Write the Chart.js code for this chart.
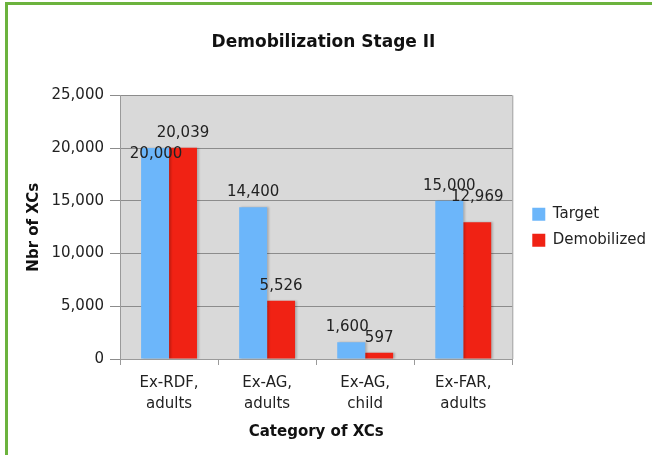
<!DOCTYPE html>
<html>
<head>
<meta charset="utf-8">
<script src="https://cdn.jsdelivr.net/npm/chart.js@4.4.1/dist/chart.umd.min.js"></script>
<style>
  html, body { margin: 0; padding: 0; background: #fff; }
  #wrap { position: relative; width: 652px; height: 455px; }
  #frame { position: absolute; left: 5px; top: 2px; right: 0; bottom: 0;
           border-top: 3px solid #6cb33e; border-left: 3px solid #6cb33e; pointer-events: none; }
  canvas { position: absolute; left: 0; top: 0; }
</style>
</head>
<body>
<div id="wrap">
  <canvas id="chart" width="652" height="455"></canvas>
  <div id="frame"></div>
</div>
<script>
// data
const categories = [["Ex-RDF,", "adults"], ["Ex-AG,", "adults"], ["Ex-AG,", "child"], ["Ex-FAR,", "adults"]];
const target = [20000, 14400, 1600, 15000];
const demobilized = [20039, 5526, 597, 12969];
const yTicks = [0, 5000, 10000, 15000, 20000, 25000];

// label nudges (dx, dy) so they sit where the original put them
const labelNudge = {
  0: [[1, 21], [0, 0], [-4, 0], [0, 0]],
  1: [[0, 0], [0, 0], [0, 0], [0, -10]],
};

const FONT = "'DejaVu Sans', Verdana, sans-serif";

const plotBg = {
  id: "plotBg",
  beforeDraw(chart) {
    const { ctx, chartArea: a } = chart;
    ctx.save();
    ctx.fillStyle = "#d9d9d9";
    ctx.fillRect(a.left, a.top, a.right - a.left, a.bottom - a.top);
    ctx.restore();
  },
  afterDraw(chart) {
    const { ctx, chartArea: a } = chart;
    ctx.save();
    ctx.strokeStyle = "#9a9a9a";
    ctx.lineWidth = 1;
    ctx.beginPath();
    ctx.moveTo(a.right + 0.5, a.top);
    ctx.lineTo(a.right + 0.5, a.bottom);
    ctx.stroke();
    ctx.restore();
  },
  // soft shadow on the right of bars
  beforeDatasetsDraw(chart) {
    const ctx = chart.ctx;
    ctx.save();
    ctx.shadowColor = "rgba(0,0,0,0.2)";
    ctx.shadowOffsetX = 2;
    ctx.shadowOffsetY = 0;
    ctx.shadowBlur = 2;
  },
  afterDatasetsDraw(chart) {
    chart.ctx.restore();
  }
};

const valueLabels = {
  id: "valueLabels",
  afterDatasetsDraw(chart) {
    const ctx = chart.ctx;
    ctx.save();
    ctx.font = "15px " + FONT;
    ctx.fillStyle = "#222";
    ctx.textAlign = "center";
    ctx.textBaseline = "middle";
    chart.data.datasets.forEach((ds, di) => {
      chart.getDatasetMeta(di).data.forEach((bar, i) => {
        const [dx, dy] = labelNudge[di][i];
        ctx.fillText(ds.data[i].toLocaleString("en-US"), bar.x + dx, bar.y - 15 + dy);
      });
    });
    ctx.restore();
  }
};

const legendShift = {
  id: "legendShift",
  afterLayout(chart) {
    chart.legend.left += 9;
    chart.legend.right += 9;
  }
};

new Chart(document.getElementById("chart"), {
  type: "bar",
  data: {
    labels: categories,
    datasets: [
      { label: "Target", data: target, backgroundColor: "#6cb6fa" },
      { label: "Demobilized", data: demobilized, backgroundColor: "#f02214" },
    ],
  },
  options: {
    responsive: false,
    animation: false,
    layout: { padding: { left: 0, right: 5, top: 0, bottom: 14 } },
    datasets: { bar: { barPercentage: 1, categoryPercentage: 0.57 } },
    scales: {
      x: {
        grid: { drawOnChartArea: false, offset: true, tickLength: 6, color: "#9a9a9a" },
        border: { color: "#9a9a9a" },
        ticks: { color: "#222", font: { family: FONT, size: 15, lineHeight: 1.4 }, padding: 8, maxRotation: 0 },
        title: { display: true, text: "Category of XCs", color: "#111",
                 font: { family: FONT, size: 15, weight: "bold" }, padding: { top: 0, bottom: 0 } },
      },
      y: {
        min: 0, max: 25000,
        afterBuildTicks(scale) { scale.ticks = yTicks.map(v => ({ value: v })); },
        afterFit(scale) { scale.width = 120; },
        grid: { color: "#8c8c8c", tickLength: 10 },
        border: { color: "#9a9a9a" },
        ticks: { color: "#222", font: { family: FONT, size: 15 }, padding: 6,
                 callback: v => v.toLocaleString("en-US") },
        title: { display: true, text: "Nbr of XCs", color: "#111",
                 font: { family: FONT, size: 15, weight: "bold" }, padding: { top: 25, bottom: 0 } },
      },
    },
    plugins: {
      title: { display: true, text: "Demobilization Stage II", color: "#111",
               font: { family: FONT, size: 17, weight: "bold" }, padding: { top: 32, bottom: 43 } },
      legend: {
        position: "right", fullSize: false,
        labels: { color: "#222", font: { family: FONT, size: 15 }, boxWidth: 13, boxHeight: 13, padding: 11 },
      },
      tooltip: { enabled: false },
    },
  },
  plugins: [plotBg, valueLabels, legendShift],
});
</script>
</body>
</html>
